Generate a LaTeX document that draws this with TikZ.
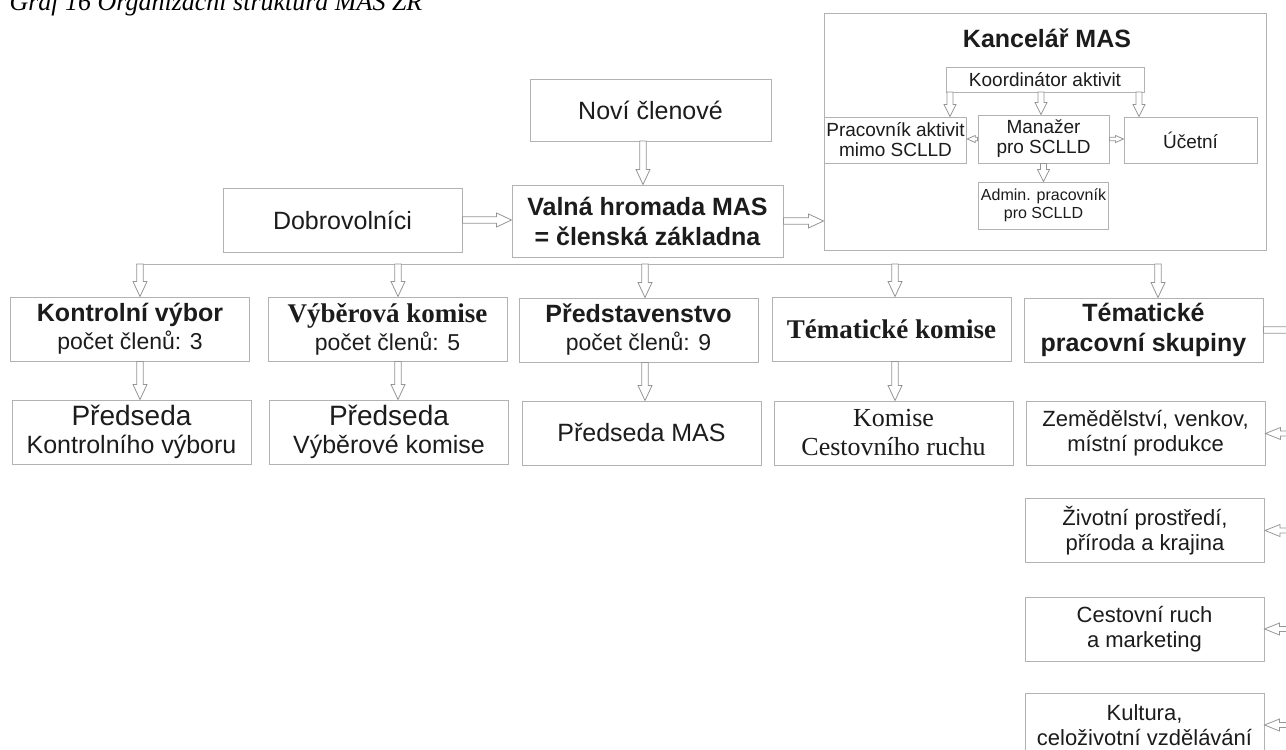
\documentclass[tikz,border=0pt]{standalone}
\usepackage{fontspec}
\setmainfont{Liberation Sans}
\newfontfamily\serifcz{Liberation Serif}
\usetikzlibrary{calc,positioning}
\definecolor{boxgray}{RGB}{178,178,178}
\definecolor{arrgray}{RGB}{150,150,150}
\definecolor{inkblack}{RGB}{28,28,28}
\newcommand\titlefont{\serifcz\itshape\fontsize{26}{30}\selectfont}
\newcommand\bigbold{\bfseries\fontsize{25}{30}\selectfont}
\newcommand\bigsans{\fontsize{25}{28}\selectfont}
\newcommand\subsans{\fontsize{23}{28}\selectfont}
\newcommand\serifbold{\serifcz\bfseries\fontsize{27}{30}\selectfont}
\newcommand\serifreg{\serifcz\fontsize{26}{29}\selectfont}
\newcommand\topicfont{\fontsize{22}{25}\selectfont}
\newcommand\officefont{\fontsize{19}{20}\selectfont}
\newcommand\adminfont{\fontsize{16}{18}\selectfont}
\tikzset{
  arrshaft/.store in=\arrshaft, arrhead/.store in=\arrhead, arrheadlen/.store in=\arrheadlen,
  arrshaft=3.3pt, arrhead=7pt, arrheadlen=15pt,
  box/.style={rectangle, draw=boxgray, line width=1pt, fill=white, text=inkblack, align=center, inner sep=2pt, minimum width=239pt, minimum height=64pt},
  busline/.style={draw=boxgray, line width=1pt},
  blockarr/.style={draw=arrgray, line width=0.8pt, fill=white, line join=miter,
    to path={let \p1=(\tikztostart), \p2=(\tikztotarget),
      \n1={veclen(\x2-\x1,\y2-\y1)}, \n2={(\x2-\x1)/\n1}, \n3={(\y2-\y1)/\n1},
      \p3=({\x1+(\n2)*(\n1-\arrheadlen)},{\y1+(\n3)*(\n1-\arrheadlen)}) in
      ({\x1-(\n3)*\arrshaft},{\y1+(\n2)*\arrshaft})
      -- ({\x3-(\n3)*\arrshaft},{\y3+(\n2)*\arrshaft})
      -- ({\x3-(\n3)*\arrhead},{\y3+(\n2)*\arrhead})
      -- (\p2)
      -- ({\x3+(\n3)*\arrhead},{\y3-(\n2)*\arrhead})
      -- ({\x3+(\n3)*\arrshaft},{\y3-(\n2)*\arrshaft})
      -- ({\x1+(\n3)*\arrshaft},{\y1-(\n2)*\arrshaft})
      -- cycle (\tikztotarget)}},
  smallarr/.style={blockarr, arrshaft=1.8pt, arrhead=3.5pt, arrheadlen=8pt},
  officearr/.style={blockarr, arrshaft=3pt, arrhead=6pt, arrheadlen=12pt}
}
\begin{document}
\begin{tikzpicture}[x=1pt, y=-1pt]
\useasboundingbox (0,0) rectangle (1286,750);
\clip (0,0) rectangle (1286,750);
\fill[white] (0,0) rectangle (1286,750);
\node[anchor=base west, font=\titlefont, text=black] (title) at (6,10) {Graf 16 Organizační struktura MAS ZR};
% General assembly
\node[box, minimum width=241pt, minimum height=62pt, font=\bigsans] (novi) at (650.5,110) {Noví členové};
\node[box, font=\bigsans] (dob) at (342.5,220) {Dobrovolníci};
\node[box, minimum width=271pt, minimum height=72pt, font=\bigbold] (valna) at (647.5,221) {Valná hromada MAS\\= členská základna};
% Office
\node[box, minimum width=442pt, minimum height=237pt] (kanc) at (1045,131.5) {};
\node[font=\bigbold, text=inkblack] (kanctit) at (1047,38) {Kancelář MAS};
\node[box, minimum width=198pt, minimum height=25pt, font=\officefont] (koord) at (1045,79.5) {Koordinátor aktivit};
\node[box, minimum width=133pt, minimum height=46pt, font=\officefont] (prac) at (895.5,140) {Pracovník aktivit\\mimo SCLLD};
\node[box, minimum width=131pt, minimum height=48pt, font=\officefont] (manazer) at (1043.5,139) {Manažer\\pro SCLLD};
\node[box, minimum width=133pt, minimum height=46pt, font=\officefont] (ucetni) at (1190.5,140) {Účetní};
\node[box, minimum width=129pt, minimum height=47pt, font=\adminfont] (admin) at (1043.5,205.5) {Admin. pracovník\\pro SCLLD};
% Row 1
\node[box, font=\subsans] (kv) at (130,329) {{\bigbold Kontrolní výbor}\\počet členů: 3};
\node[box, font=\subsans] (vk) at (387.5,329) {{\serifbold Výběrová komise}\\počet členů: 5};
\node[box, font=\subsans] (pred) at (638.5,330) {{\bigbold Představenstvo}\\počet členů: 9};
\node[box, font=\serifbold] (tk) at (891.5,329) {Tématické komise};
\node[box, font=\bigbold] (tps) at (1143.5,330) {Tématické\\pracovní skupiny};
% Row 2
\node[box, font=\bigsans] (pkv) at (131.5,432) {{\fontsize{28}{28}\selectfont Předseda}\\Kontrolního výboru};
\node[box, font=\bigsans] (pvk) at (389,432) {{\fontsize{28}{28}\selectfont Předseda}\\Výběrové komise};
\node[box, font=\bigsans] (pmas) at (641.5,433) {Předseda MAS};
\node[box, font=\serifreg] (kcr) at (893.5,433) {Komise\\Cestovního ruchu};
% Working groups
\node[box, font=\topicfont] (zem) at (1145.5,433.5) {Zemědělství, venkov,\\místní produkce};
\node[box, font=\topicfont] (ziv) at (1145,530.5) {Životní prostředí,\\příroda a krajina};
\node[box, font=\topicfont] (cr) at (1144.5,629) {Cestovní ruch\\a marketing};
\node[box, font=\topicfont] (kult) at (1144.5,725) {Kultura,\\celoživotní vzdělávání};
% bus and helper coordinates
\coordinate (busL) at (136,264);
\coordinate (busR) at (1160,264);
\coordinate (c1) at (140,264);
\coordinate (c2) at (398,264);
\coordinate (c3) at (645,264);
\coordinate (c4) at (895,264);
\coordinate (c5) at (1158,264);
\coordinate (rx) at (1302,330);
\coordinate (k1) at (950,92);
\coordinate (k2) at (1041,92);
\coordinate (k3) at (1139,92);
\coordinate (nv) at (643,141);
% Arrows into assembly
\draw[blockarr] (nv) to (nv |- valna.north);
\draw[blockarr] (dob.east) to (dob.east -| valna.west);
\draw[blockarr] (valna.east) to (valna.east -| kanc.west);
% Office arrows
\draw[officearr] (k1) to (k1 |- prac.north);
\draw[officearr] (k2) to (k2 |- manazer.north);
\draw[officearr] (k3) to (k3 |- ucetni.north);
\draw[smallarr] (manazer.west) to (manazer.west -| prac.east);
\draw[smallarr] (manazer.east) to (manazer.east -| ucetni.west);
\draw[officearr] (manazer.south) to (admin.north);
% Bus to bodies
\draw[busline] (busL) -- (busR);
\draw[blockarr] (c1) to (c1 |- kv.north);
\draw[blockarr] (c2) to (c2 |- vk.north);
\draw[blockarr] (c3) to (c3 |- pred.north);
\draw[blockarr] (c4) to (c4 |- tk.north);
\draw[blockarr] (c5) to (c5 |- tps.north);
% Bodies to chairs
\draw[blockarr] (c1 |- kv.south) to (c1 |- pkv.north);
\draw[blockarr] (c2 |- vk.south) to (c2 |- pvk.north);
\draw[blockarr] (c3 |- pred.south) to (c3 |- pmas.north);
\draw[blockarr] (c4 |- tk.south) to (c4 |- kcr.north);
% Working groups (right edge)
\draw[blockarr] (tps.east) to (tps.east -| rx);
\draw[blockarr, arrshaft=2.5pt, arrhead=6pt] (zem.east -| rx) to (zem.east);
\draw[blockarr, arrshaft=2.5pt, arrhead=6pt] (ziv.east -| rx) to (ziv.east);
\draw[blockarr, arrshaft=2.5pt, arrhead=6pt] (cr.east -| rx) to (cr.east);
\draw[blockarr, arrshaft=2.5pt, arrhead=6pt] (kult.east -| rx) to (kult.east);
\end{tikzpicture}
\end{document}
